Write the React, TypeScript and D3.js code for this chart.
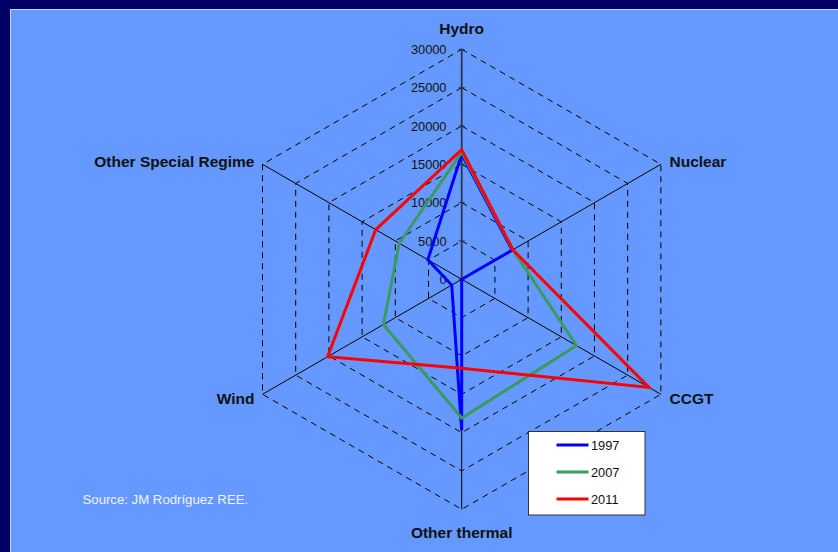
import React from "react";
import * as d3 from "d3";

// Installed generating capacity by technology (MW)
const categories = ["Hydro", "Nuclear", "CCGT", "Other thermal", "Wind", "Other Special Regime"];
const years = ["1997", "2007", "2011"];
const values1997 = [16300, 7600, 0, 19700, 1500, 5100];
const values2007 = [16600, 7700, 17300, 18100, 11800, 9400];
const values2011 = [16900, 7700, 28200, 11600, 20200, 12950];
const tickValues = [0, 5000, 10000, 15000, 20000, 25000, 30000];
const seriesColors = ["#0000ff", "#3a9a62", "#ff0000"];
const sourceNote = "Source: JM Rodríguez REE.";

const W = 838;
const H = 552;
const cx = 461.7;
const cy = 279.3;
const R = 230;
const FONT = "'Liberation Sans', Arial, Helvetica, sans-serif";

export default function App() {
  const series = [values1997, values2007, values2011];
  const r = d3.scaleLinear().domain([0, 30000]).range([0, R]);
  const angle = d3
    .scaleLinear()
    .domain([0, categories.length])
    .range([-Math.PI / 2, (3 * Math.PI) / 2]);

  const pt = (i: number, v: number): [number, number] => {
    const a = angle(i);
    return [cx + r(v) * Math.cos(a), cy + r(v) * Math.sin(a)];
  };

  const closedLine = d3
    .line<[number, number]>()
    .x((d) => d[0])
    .y((d) => d[1])
    .curve(d3.curveLinearClosed);

  const idx = d3.range(categories.length);

  // label placement per axis
  const labelPos = [
    { x: cx, y: 33.5, anchor: "middle" },
    { x: 669.5, y: 167, anchor: "start" },
    { x: 669.5, y: 404, anchor: "start" },
    { x: cx, y: 537.5, anchor: "middle" },
    { x: 254.5, y: 404, anchor: "end" },
    { x: 254.5, y: 167, anchor: "end" },
  ];

  const legendX = 528.5;
  const legendY = 431.5;

  return (
    <svg
      width={W}
      height={H}
      style={{ position: "absolute", left: 0, top: 0, display: "block" }}
    >
      <rect x={0} y={0} width={W} height={H} fill="#000066" />
      <rect x={10.5} y={9.5} width={W} height={H} fill="#6699ff" stroke="#c8d4ff" strokeWidth={1} />

      {/* hexagonal dashed grid */}
      {tickValues.slice(1).map((t) => (
        <path
          key={t}
          d={closedLine(idx.map((i) => pt(i, t))) || ""}
          fill="none"
          stroke="#000"
          strokeWidth={1}
          strokeDasharray="6,5"
        />
      ))}

      {/* category axes */}
      {idx.map((i) => {
        const [x2, y2] = pt(i, 30000);
        return i === 0 ? null : (
          <line key={i} x1={cx} y1={cy} x2={x2} y2={y2} stroke="#000" strokeWidth={1} />
        );
      })}

      {/* value axis with tick marks */}
      <line x1={cx} y1={cy} x2={cx} y2={cy - R} stroke="#2b3450" strokeWidth={1.8} />
      {tickValues.map((t) => (
        <g key={t}>
          <line
            x1={cx - 3}
            x2={cx + 3}
            y1={cy - r(t)}
            y2={cy - r(t)}
            stroke="#2b3450"
            strokeWidth={1}
          />
          <text
            x={446.5}
            y={cy - r(t)}
            dy="0.36em"
            textAnchor="end"
            fontFamily={FONT}
            fontSize={12.8}
            fill="#111"
          >
            {t}
          </text>
        </g>
      ))}

      {/* series */}
      {series.map((vals, s) => (
        <path
          key={years[s]}
          d={closedLine(vals.map((v, i) => pt(i, v))) || ""}
          fill="none"
          stroke={seriesColors[s]}
          strokeWidth={3}
          strokeLinejoin="miter"
        />
      ))}

      {/* category labels */}
      {categories.map((c, i) => (
        <text
          key={c}
          x={labelPos[i].x}
          y={labelPos[i].y}
          textAnchor={labelPos[i].anchor as any}
          fontFamily={FONT}
          fontWeight="bold"
          fontSize={15.5}
          fill="#111"
        >
          {c}
        </text>
      ))}

      {/* legend */}
      <rect
        x={legendX}
        y={legendY}
        width={116.5}
        height={83.5}
        fill="#fff"
        stroke="#333"
        strokeWidth={1}
      />
      {years.map((y, s) => {
        const ly = 445 + s * 27;
        return (
          <g key={y}>
            <line x1={556.5} x2={588.5} y1={ly} y2={ly} stroke={seriesColors[s]} strokeWidth={3} />
            <text x={591} y={ly} dy="0.36em" fontFamily={FONT} fontSize={12.8} fill="#111">
              {y}
            </text>
          </g>
        );
      })}

      <text x={82.5} y={504} fontFamily={FONT} fontSize={13.2} fill="#eef2ff">
        {sourceNote}
      </text>
    </svg>
  );
}
